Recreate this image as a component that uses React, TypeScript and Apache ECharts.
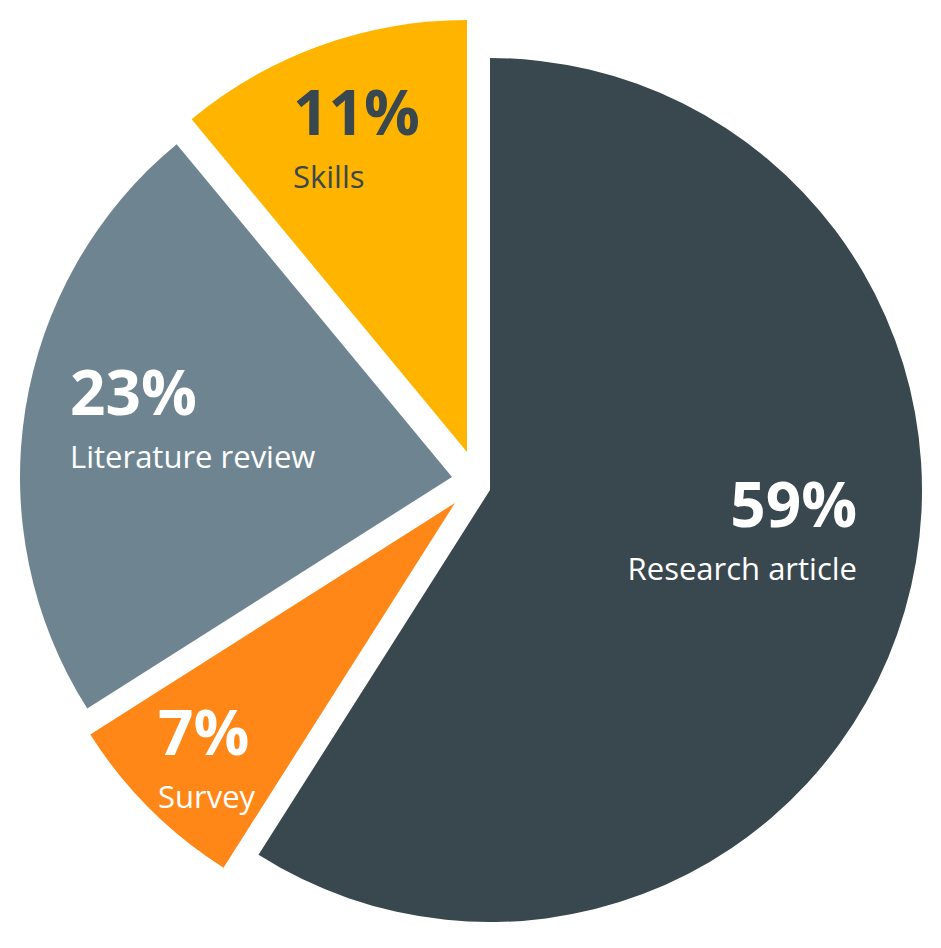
import React, { useEffect, useRef } from "react";
import * as echarts from "echarts";

// ---- data ----
const categories = ["Research article", "Survey", "Literature review", "Skills"];
const shares = [59, 7, 23, 11];
const sliceColors = ["#39484e", "#ff8717", "#6e8591", "#ffb400"];
const labelColors = ["#ffffff", "#ffffff", "#ffffff", "#39484e"];

// ---- layout (exploded slices: each slice drawn with its own centre) ----
const SLICE_CENTERS: [number, number][] = [
  [490, 490],
  [455, 503],
  [452, 477],
  [467, 452],
];
const RADIUS = 432;
const LABEL_POS: { x: number; y: number; align: "left" | "right" }[] = [
  { x: 857, y: 465, align: "right" },
  { x: 158, y: 693, align: "left" },
  { x: 70, y: 353, align: "left" },
  { x: 293, y: 73, align: "left" },
];

const FONT = "'Open Sans', 'Noto Sans', sans-serif";

function makeSeries(k: number): any {
  return {
    type: "pie",
    name: categories[k],
    center: SLICE_CENTERS[k],
    radius: [0, RADIUS],
    startAngle: 90,
    clockwise: true,
    silent: true,
    avoidLabelOverlap: false,
    labelLine: { show: false },
    emphasis: { disabled: true },
    data: categories.map((name, j) => ({
      name,
      value: shares[j],
      itemStyle: { color: j === k ? sliceColors[j] : "rgba(0,0,0,0)" },
      label:
        j === k
          ? {
              show: true,
              position: "inside",
              align: LABEL_POS[k].align,
              formatter: `{p|${shares[j]}%}\n{n|${name}}`,
              rich: {
                p: {
                  fontFamily: FONT,
                  fontWeight: "bold",
                  fontSize: 62,
                  lineHeight: 76,
                  color: labelColors[j],
                  align: LABEL_POS[k].align,
                },
                n: {
                  fontFamily: FONT,
                  fontSize: 31,
                  lineHeight: 54,
                  color: labelColors[j],
                  align: LABEL_POS[k].align,
                },
              },
            }
          : { show: false },
    })),
    labelLayout: () => ({
      x: LABEL_POS[k].x,
      y: LABEL_POS[k].y,
      align: LABEL_POS[k].align,
      verticalAlign: "top",
    }),
  };
}

export default function App() {
  const ref = useRef<HTMLDivElement>(null);
  useEffect(() => {
    if (!ref.current) return;
    const chart = echarts.init(ref.current, undefined, { renderer: "svg" });
    chart.setOption({
      animation: false,
      backgroundColor: "#ffffff",
      series: categories.map((_, k) => makeSeries(k)),
    });
    return () => chart.dispose();
  }, []);
  return (
    <div
      ref={ref}
      style={{ position: "fixed", left: 0, top: 0, width: 941, height: 948 }}
    />
  );
}
